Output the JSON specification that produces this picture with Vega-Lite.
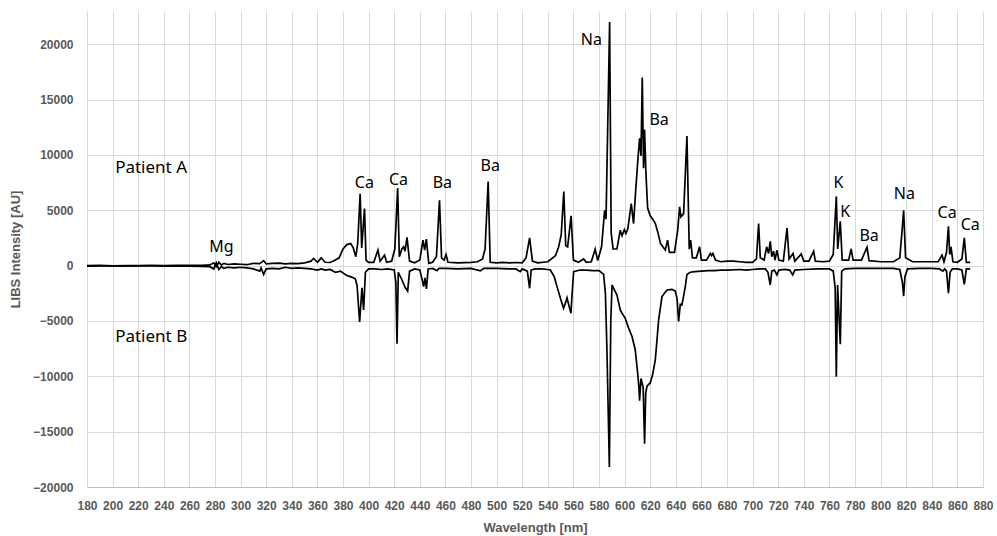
{
  "$schema": "https://vega.github.io/schema/vega-lite/v6.json",
  "width": 896,
  "height": 476,
  "autosize": {"type": "none"},
  "padding": {"left": 87, "top": 11, "right": 14, "bottom": 49},
  "background": "white",
  "config": {
    "view": {"stroke": null},
    "axis": {"labelFont": "Liberation Sans", "titleFont": "Liberation Sans", "labelColor": "#595959", "titleColor": "#595959", "labelFontWeight": "bold", "titleFontWeight": "bold", "labelFontSize": 12, "titleFontSize": 13, "gridColor": "#d9d9d9", "gridWidth": 1, "ticks": false, "domainColor": "#bfbfbf", "labelOverlap": false}
  },
  "datasets": {
    "A": [
      [180,0],[190,20],[200,-20],[210,10],[220,0],[230,30],[240,10],[250,20],[260,30],[270,20],[276,60],[279,250],[281,-100],[283,300],[285,50],[287,200],[290,100],[295,150],[300,120],[305,80],[310,200],[315,180],[318,450],[320,150],[325,200],[330,220],[335,150],[340,200],[345,180],[350,250],[355,400],[357,650],[360,300],[363,700],[366,300],[370,280],[374,500],[377,700],[380,1500],[383,1900],[386,2000],[388,1600],[390,800],[391.5,2000],[393.4,6500],[394.6,1600],[396.8,5150],[398,500],[400,300],[404,300],[407.3,1400],[409,400],[412.5,950],[414,300],[418,400],[420.5,1500],[422.7,7000],[424,800],[426,1500],[427.4,1700],[428.5,1300],[430,2550],[432,400],[436,250],[440,500],[442.5,2300],[443.8,1400],[445.1,2400],[447,200],[450,300],[453,800],[455.4,5900],[457,700],[459,500],[460.5,1000],[462,300],[470,250],[480,300],[485,350],[489,600],[491,1500],[493.4,7600],[495,300],[500,250],[505,300],[510,250],[515,280],[520,250],[523,700],[525.8,2500],[528,400],[532,250],[540,350],[546,900],[548.5,1700],[550.5,2800],[552.5,6700],[554,1800],[555.5,1700],[558.2,4500],[560,500],[564,300],[568,600],[570,300],[574,350],[577,1500],[579,450],[582,1700],[584.4,5000],[585.5,4200],[588.3,22000],[589.5,3000],[591,1500],[594,1500],[596.6,3200],[598,2700],[599.8,3250],[601,2900],[602.5,3300],[605.2,5600],[607,3800],[608.5,6500],[610.2,9300],[611.7,11500],[612.8,9900],[613.8,17000],[614.8,8800],[615.6,12300],[616.6,8500],[618,5200],[620,4500],[622,4200],[624,3800],[626,3000],[628,2000],[631.8,1400],[633.6,2300],[635,1200],[639,1200],[641.5,3200],[643,5300],[644,4400],[646.1,4700],[648.7,11700],[650.5,1500],[651.6,2300],[653,700],[656,700],[658.6,1700],[660,500],[664,500],[667,1100],[668,900],[669,1100],[671,500],[675,350],[680,400],[685,400],[690,350],[695,300],[700,300],[703,600],[704.7,3800],[706,700],[709,500],[711,1700],[712.5,1100],[713.8,2200],[715,800],[716.4,1300],[717.5,500],[719,1400],[720.5,500],[724,400],[726.9,3400],[728.5,600],[731.6,1100],[733,400],[738,1050],[740,400],[744,400],[747.7,1300],[749,400],[755,350],[760,400],[763,1000],[765.4,6250],[766.5,1500],[768.5,4000],[770,500],[775,500],[777,1500],[778.5,500],[785,500],[789.4,1650],[791,450],[800,350],[810,350],[815,700],[817,3500],[818,5000],[819.5,700],[825,350],[835,350],[845,350],[848,950],[849.5,350],[851.5,1200],[853,3550],[854,1000],[855,1700],[856.5,350],[860,300],[863.5,600],[865.4,2500],[867,300],[870,300]
    ],
    "B": [
      [180,-50],[190,-30],[200,-20],[210,-40],[220,-20],[230,-30],[240,-50],[250,-60],[260,-50],[270,-80],[276,-100],[279,-300],[281,250],[283,-350],[285,-100],[287,-250],[290,-150],[295,-200],[300,-150],[305,-200],[310,-300],[315,-500],[316,-200],[318,-800],[320,-300],[325,-250],[330,-300],[335,-150],[340,-250],[345,-200],[350,-250],[355,-300],[360,-400],[363,-300],[366,-400],[370,-350],[374,-600],[378,-500],[380.5,-700],[383,-900],[385.7,-1000],[388,-1100],[389.6,-1200],[391,-1800],[393,-5100],[394.8,-2000],[396.1,-4000],[397.5,-600],[400,-300],[405,-300],[410,-350],[415,-300],[420,-400],[421.3,-1500],[422.2,-7050],[423.2,-600],[426.1,-1300],[428.7,-2000],[430.5,-2300],[432,-500],[436,-300],[440,-400],[441.7,-1200],[443,-1900],[444,-1100],[445.2,-2100],[446.5,-300],[450,-250],[453.4,-450],[455,-250],[460,-250],[470,-300],[480,-250],[487.3,-480],[490,-250],[500,-250],[510,-300],[515,-300],[518.5,-550],[520,-300],[524,-500],[525.8,-2050],[527,-400],[530,-300],[535,-300],[540,-350],[542,-400],[545,-1000],[547.2,-1900],[550,-3000],[552.3,-3850],[554,-3300],[555,-2900],[556.5,-3600],[558.1,-4300],[559,-2500],[560.2,-550],[565,-400],[570,-400],[575,-450],[580,-450],[583.6,-800],[585,-2500],[586.2,-7600],[588.1,-18200],[589.2,-5000],[590.2,-1750],[592,-2200],[594,-2650],[596.6,-4000],[598,-4300],[600.5,-4760],[603,-5600],[605.8,-6400],[608.3,-7600],[610.2,-9700],[611.2,-11000],[611.7,-12200],[612.8,-10200],[614.5,-11000],[615.6,-16100],[616.5,-11500],[617.5,-10900],[620,-10600],[622,-9800],[624,-8500],[626.6,-4900],[629.2,-2800],[633.1,-2200],[637,-2150],[639.6,-2300],[641,-3000],[642.2,-5050],[643.5,-3500],[644.8,-3550],[646,-2800],[647.4,-1900],[648.7,-800],[651.3,-600],[655,-550],[660,-500],[665,-450],[670,-450],[675,-400],[680,-400],[690,-350],[695,-400],[700,-350],[705,-300],[710,-300],[712,-600],[713.8,-1750],[715,-500],[717,-400],[719,-840],[720.5,-400],[725,-350],[729,-400],[731.3,-840],[733,-400],[740,-350],[750,-300],[760,-300],[763,-500],[764.5,-2000],[765.4,-10050],[766.4,-1750],[768.5,-7100],[769.6,-500],[772,-300],[780,-250],[790,-250],[800,-250],[810,-250],[815,-350],[817,-1500],[818,-2750],[819,-1000],[821,-300],[830,-250],[840,-250],[846,-300],[848.7,-500],[850,-300],[851.5,-500],[853,-2500],[854.3,-600],[856,-300],[860,-300],[863.5,-400],[865.4,-1700],[867,-300],[870,-300]
    ],
    "labels": [
      [285,1690,"Mg"],[396.7,7460,"Ca"],[423.3,7740,"Ca"],[457.6,7460,"Ba"],[495,9000,"Ba"],[574,20400,"Na"],[627,13170,"Ba"],[767,7460,"K"],[772.4,4840,"K"],[791,2690,"Ba"],[818.6,6470,"Na"],[852,4750,"Ca"],[870,3660,"Ca"]
    ],
    "patients": [
      [202,8830,"Patient A"],[202,-6460,"Patient B"]
    ]
  },
  "encoding": {
    "x": {"field": "0", "type": "quantitative", "scale": {"domain": [180, 880], "nice": false, "zero": false}, "axis": {"title": "Wavelength [nm]", "values": [180,200,220,240,260,280,300,320,340,360,380,400,420,440,460,480,500,520,540,560,580,600,620,640,660,680,700,720,740,760,780,800,820,840,860,880], "labelOverlap": false, "labelFontSize": 12, "labelPadding": 13, "titlePadding": 10, "domainColor": "#bfbfbf", "labelFlush": false}},
    "y": {"field": "1", "type": "quantitative", "scale": {"domain": [-20000, 23000], "nice": false}, "axis": {"title": "LIBS Intensity [AU]", "values": [-20000,-15000,-10000,-5000,0,5000,10000,15000,20000], "format": "d", "labelPadding": 14, "titlePadding": 10, "domainColor": "#d9d9d9"}}
  },
  "layer": [
    {
      "data": {"name": "A"},
      "mark": {"type": "line", "color": "#000000", "strokeWidth": 1.7}
    },
    {
      "data": {"name": "B"},
      "mark": {"type": "line", "color": "#000000", "strokeWidth": 1.7}
    },
    {
      "data": {"name": "labels"},
      "mark": {"type": "text", "font": "Noto Sans", "fontSize": 16, "color": "#000000", "align": "center", "baseline": "middle"},
      "encoding": {"text": {"field": "2"}}
    },
    {
      "data": {"name": "patients"},
      "mark": {"type": "text", "font": "Noto Sans", "fontSize": 17, "color": "#000000", "align": "left", "baseline": "middle"},
      "encoding": {"text": {"field": "2"}}
    }
  ]
}
